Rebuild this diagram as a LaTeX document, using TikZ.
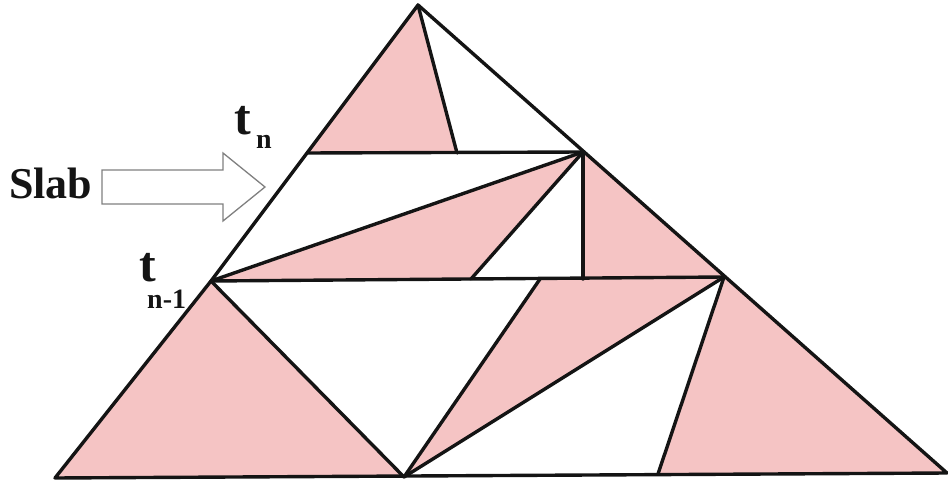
\documentclass[tikz,border=0pt]{standalone}
\usepackage{fontspec}
\setmainfont{Liberation Serif}
\definecolor{slbPink}{HTML}{F5C4C4}
\definecolor{slbInk}{HTML}{141414}
\definecolor{slbGray}{HTML}{808080}
\tikzset{
  slb edge/.style={draw=slbInk, line width=3.4pt, line join=round, line cap=round},
  slb cell/.style={fill=slbPink, draw=none},
  slb arrow/.style={draw=slbGray, line width=1.3pt, fill=white, line join=miter},
  slb big/.style={font=\fontsize{44}{44}\selectfont\bfseries, text=slbInk, inner sep=0pt, anchor=base west},
  slb tee/.style={font=\fontsize{50}{50}\selectfont\bfseries, text=slbInk, inner sep=0pt, anchor=base west},
  slb sub/.style={font=\fontsize{28}{28}\selectfont\bfseries, text=slbInk, inner sep=0pt, anchor=base west},
}

\begin{document}
\begin{tikzpicture}[x=1pt, y=-1pt]
  \useasboundingbox (0,0) rectangle (948,484);
  % ----- vertices of the big triangle and its slabs -----
  \coordinate (apex) at (418,5);
  \coordinate (tn) at (307,153);
  \coordinate (tnm) at (211,281);
  \coordinate (botL) at (55,478);
  \coordinate (botR) at (947,473);
  \coordinate (rtop) at (583,152);
  \coordinate (rmid) at (724,277);
  \coordinate (cut1) at (457,153);
  \coordinate (cut2) at (471,279);
  \coordinate (foot) at (583,279);
  \coordinate (botM) at (404,477);
  \coordinate (cut3) at (540,279);
  \coordinate (cut4) at (658,474);
  % ----- pink cells -----
  \fill[slb cell] (apex) -- (tn) -- (cut1) -- cycle;
  \fill[slb cell] (tnm) -- (rtop) -- (cut2) -- cycle;
  \fill[slb cell] (rtop) -- (foot) -- (rmid) -- cycle;
  \fill[slb cell] (botL) -- (tnm) -- (botM) -- cycle;
  \fill[slb cell] (botM) -- (cut3) -- (rmid) -- cycle;
  \fill[slb cell] (cut4) -- (rmid) -- (botR) -- cycle;
  % ----- outline and cuts -----
  \draw[slb edge] (apex) -- (tn) -- (tnm) -- (botL) -- (botR) -- cycle;
  \draw[slb edge] (tn) -- (rtop);
  \draw[slb edge] (apex) -- (cut1);
  \draw[slb edge] (tnm) -- (rmid);
  \draw[slb edge] (tnm) -- (rtop);
  \draw[slb edge] (rtop) -- (cut2);
  \draw[slb edge] (rtop) -- (foot);
  \draw[slb edge] (tnm) -- (botM);
  \draw[slb edge] (botM) -- (cut3);
  \draw[slb edge] (botM) -- (rmid);
  \draw[slb edge] (rmid) -- (cut4);
  % ----- slab arrow and labels -----
  \draw[slb arrow] (102,170) -- (223,170) -- (223,153) -- (265,187)
    -- (223,221) -- (223,204) -- (102,204) -- cycle;
  \node[slb big] (slab) at (9,198) {Slab};
  \node[slb tee] (tlabel) at (234,135) {t};
  \node[slb sub] (nlabel) at (256,149) {n};
  \node[slb tee] (tlabelb) at (139,281) {t};
  \node[slb sub] (nlabelb) at (147,308) {n-1};
\end{tikzpicture}
\end{document}
